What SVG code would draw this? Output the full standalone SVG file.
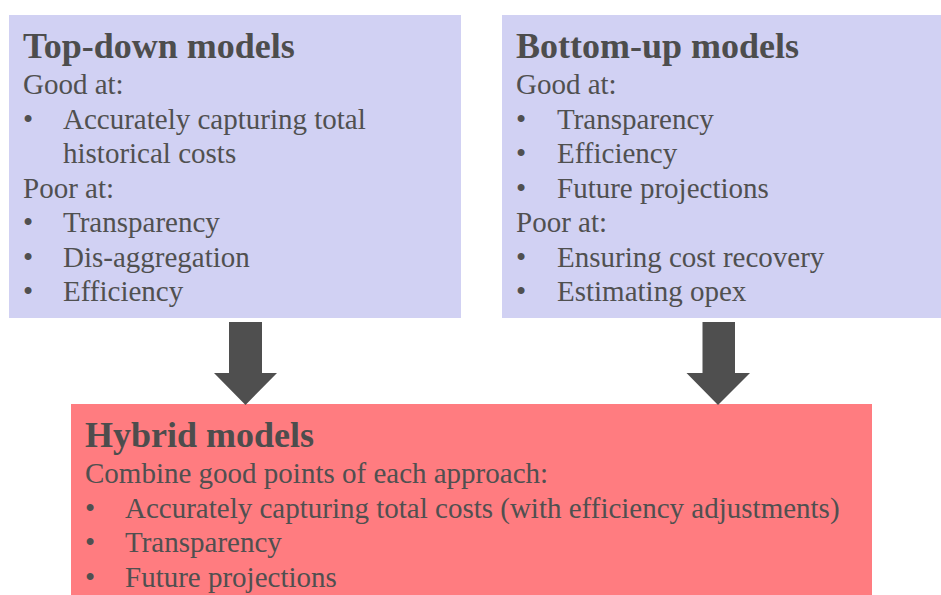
<svg xmlns="http://www.w3.org/2000/svg" width="941" height="595" viewBox="0 0 941 595">
<style>
.box{fill:#D1D1F3;}
.hyb{fill:#FF7C80;}
text{font-family:"Liberation Serif","Times New Roman",serif;fill:#505050;}
.t{font-size:36px;font-weight:bold;fill:#4D4D4D;}
.b{font-size:29px;}
.arrow{fill:#4F4F4F;}
</style>
<rect width="941" height="595" fill="#FFFFFF"/>
<g id="top-down">
<rect class="box" x="9" y="15" width="452" height="303"/>
<text class="t" x="23" y="58">Top-down models</text>
<text class="b" x="23" y="94">Good at:</text>
<text class="b" x="23" y="128.5">•</text><text class="b" x="63" y="128.5">Accurately capturing total</text>
<text class="b" x="63" y="163">historical costs</text>
<text class="b" x="23" y="197.5">Poor at:</text>
<text class="b" x="23" y="232">•</text><text class="b" x="63" y="232">Transparency</text>
<text class="b" x="23" y="266.5">•</text><text class="b" x="63" y="266.5">Dis-aggregation</text>
<text class="b" x="23" y="301">•</text><text class="b" x="63" y="301">Efficiency</text>
</g>
<g id="bottom-up">
<rect class="box" x="502" y="15" width="439" height="303"/>
<text class="t" x="516" y="58">Bottom-up models</text>
<text class="b" x="516" y="94">Good at:</text>
<text class="b" x="516" y="128.5">•</text><text class="b" x="557" y="128.5">Transparency</text>
<text class="b" x="516" y="163">•</text><text class="b" x="557" y="163">Efficiency</text>
<text class="b" x="516" y="197.5">•</text><text class="b" x="557" y="197.5">Future projections</text>
<text class="b" x="516" y="232">Poor at:</text>
<text class="b" x="516" y="266.5">•</text><text class="b" x="557" y="266.5">Ensuring cost recovery</text>
<text class="b" x="516" y="301">•</text><text class="b" x="557" y="301">Estimating opex</text>
</g>
<g id="hybrid">
<rect class="hyb" x="71" y="404" width="801" height="191"/>
<text class="t" x="85" y="447">Hybrid models</text>
<text class="b" x="85" y="483">Combine good points of each approach:</text>
<text class="b" x="85" y="517.5">•</text><text class="b" x="125" y="517.5">Accurately capturing total costs (with efficiency adjustments)</text>
<text class="b" x="85" y="552">•</text><text class="b" x="125" y="552">Transparency</text>
<text class="b" x="85" y="586.5">•</text><text class="b" x="125" y="586.5">Future projections</text>
</g>
<g id="connectors">
<polygon class="arrow" points="229,322 262,322 262,373 277,373 245.5,405 214,373 229,373"/>
<polygon class="arrow" points="702.5,322 735,322 735,373 750,373 718,405 686.5,373 702.5,373"/>
</g>
</svg>
